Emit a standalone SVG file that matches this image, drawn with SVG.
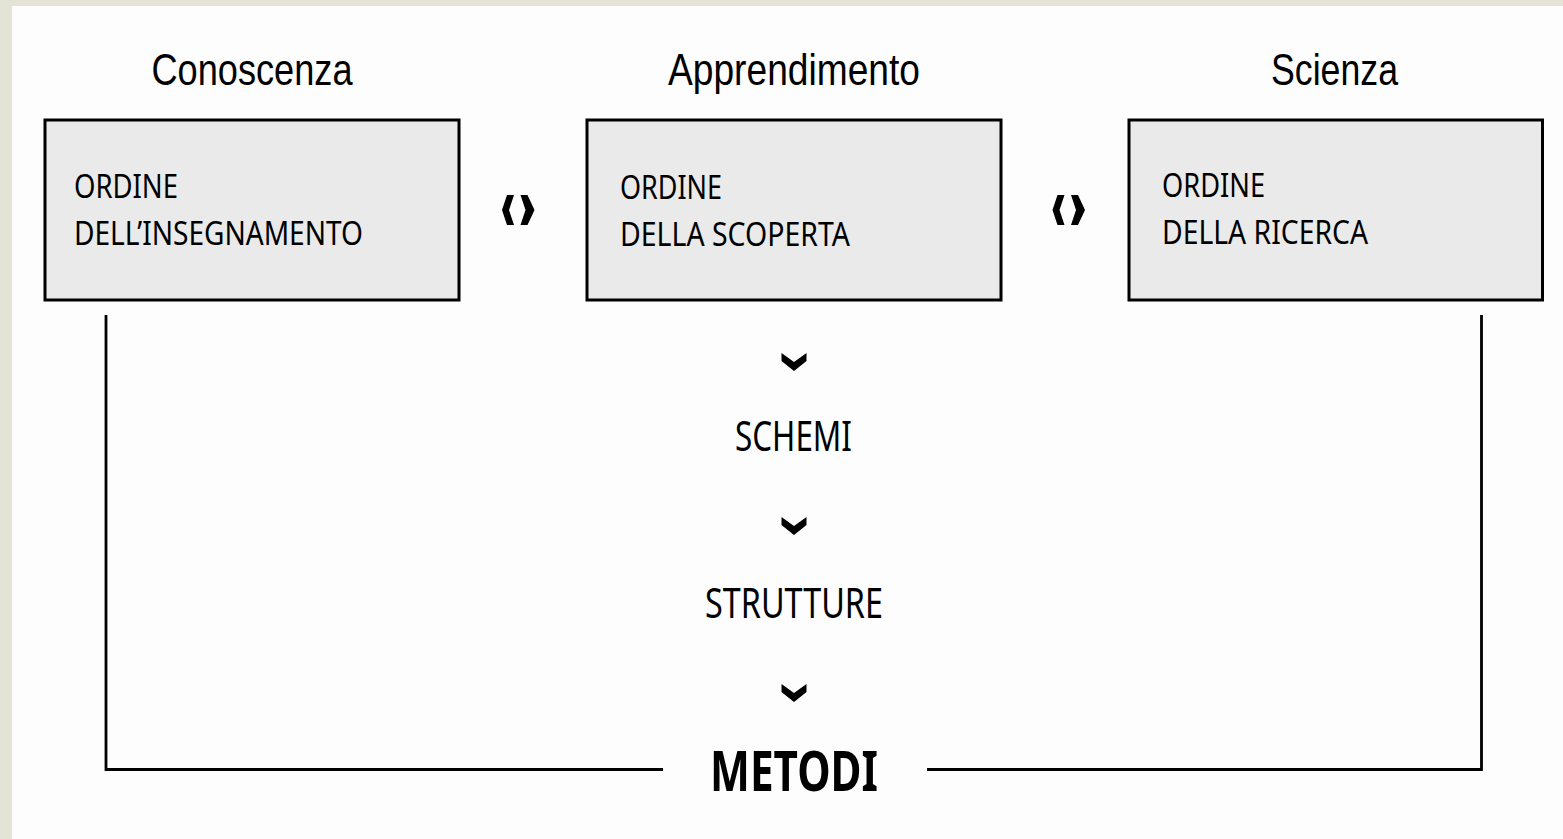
<svg xmlns="http://www.w3.org/2000/svg" width="1563" height="839" viewBox="0 0 1563 839">
  <defs>
    <style>
      .box { fill: #eaeaea; stroke: #000; stroke-width: 3; }
      .title { font-family: "Liberation Sans", Arial, sans-serif; font-size: 45px; fill: #000; }
      .label { font-family: "Noto Sans", "Liberation Sans", sans-serif; font-size: 32px; fill: #000; }
      .mid { font-family: "Noto Sans", "Liberation Sans", sans-serif; font-size: 42px; fill: #000; }
      .big { font-family: "Noto Sans", "Liberation Sans", sans-serif; font-size: 56px; font-weight: bold; fill: #000; }
      .conn { fill: none; stroke: #000; stroke-width: 2.8; }
      .chev { fill: #000; }
    </style>
    <polygon id="down" points="-12.5,0 0,9 12.5,0 12.5,8 0,18 -12.5,8"/>
    <g id="pair">
      <polygon points="-11.5,0 -4.5,0 -9.5,15 -4.5,30 -11.5,30 -16.5,15"/>
      <polygon points="2,0 9,0 16,15 9,30 2,30 7,15"/>
    </g>
  </defs>

  <rect x="0" y="0" width="1563" height="839" fill="#e3e3d6"/>
  <rect x="12" y="6" width="1551" height="833" fill="#fdfdfd"/>

  <g id="connectors">
    <polyline class="conn" points="106,315 106,769.5 663,769.5"/>
    <polyline class="conn" points="927,769.5 1481.5,769.5 1481.5,315"/>
    <use href="#pair" class="chev" x="518.5" y="195"/>
    <use href="#pair" class="chev" x="1069" y="195"/>
    <use href="#down" class="chev" x="794" y="353"/>
    <use href="#down" class="chev" x="794" y="517"/>
    <use href="#down" class="chev" x="794" y="684"/>
  </g>

  <g id="node-conoscenza">
    <text class="title" x="151.5" y="85" textLength="201" lengthAdjust="spacingAndGlyphs">Conoscenza</text>
    <rect class="box" x="45" y="120" width="414" height="180"/>
    <text class="label" x="74" y="198" textLength="104" lengthAdjust="spacingAndGlyphs">ORDINE</text>
    <text class="label" x="74" y="245" textLength="289" lengthAdjust="spacingAndGlyphs">DELL’INSEGNAMENTO</text>
  </g>

  <g id="node-apprendimento">
    <text class="title" x="668" y="85" textLength="252" lengthAdjust="spacingAndGlyphs">Apprendimento</text>
    <rect class="box" x="587" y="120" width="414" height="180"/>
    <text class="label" x="620" y="199" textLength="102" lengthAdjust="spacingAndGlyphs">ORDINE</text>
    <text class="label" x="620" y="246" textLength="230" lengthAdjust="spacingAndGlyphs">DELLA SCOPERTA</text>
  </g>

  <g id="node-scienza">
    <text class="title" x="1271" y="85" textLength="127" lengthAdjust="spacingAndGlyphs">Scienza</text>
    <rect class="box" x="1129" y="120" width="413.5" height="180"/>
    <text class="label" x="1162" y="197" textLength="103" lengthAdjust="spacingAndGlyphs">ORDINE</text>
    <text class="label" x="1162" y="244" textLength="206" lengthAdjust="spacingAndGlyphs">DELLA RICERCA</text>
  </g>

  <g id="node-schemi">
    <text class="mid" x="735" y="451" textLength="117" lengthAdjust="spacingAndGlyphs">SCHEMI</text>
  </g>

  <g id="node-strutture">
    <text class="mid" x="705" y="618" textLength="178" lengthAdjust="spacingAndGlyphs">STRUTTURE</text>
  </g>

  <g id="node-metodi">
    <text class="big" x="710" y="791" textLength="168" lengthAdjust="spacingAndGlyphs">METODI</text>
  </g>
</svg>
